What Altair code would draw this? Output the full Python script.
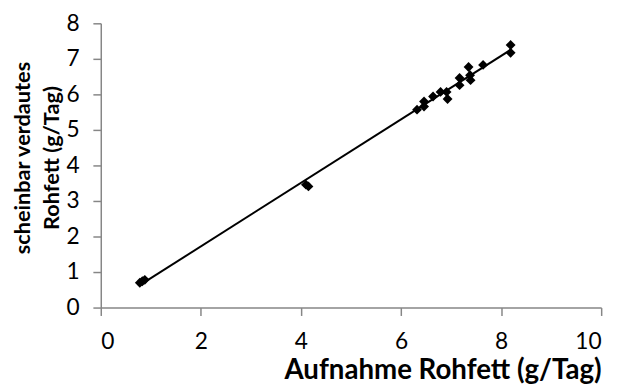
import altair as alt
import pandas as pd

aufnahme = [0.78, 0.83, 0.88, 4.10, 4.15,
            6.32, 6.46, 6.46, 6.64, 6.79, 6.91, 6.93, 7.17, 7.17,
            7.35, 7.38, 7.39, 7.64, 8.19, 8.19]
verdaut = [0.70, 0.74, 0.78, 3.46, 3.41,
           5.57, 5.66, 5.80, 5.94, 6.07, 6.07, 5.87, 6.46, 6.26,
           6.77, 6.54, 6.40, 6.83, 7.39, 7.17]

x_title = "Aufnahme Rohfett (g/Tag)"
y_title = ["scheinbar verdautes", "Rohfett  (g/Tag)"]
x_ticks = [0, 2, 4, 6, 8, 10]
y_ticks = [0, 1, 2, 3, 4, 5, 6, 7, 8]

df = pd.DataFrame({"x": aufnahme, "y": verdaut})

FONT = "Lato"
GREY = "#868686"

x_enc = alt.X("x:Q", scale=alt.Scale(domain=[0, 10], nice=False),
              axis=alt.Axis(values=x_ticks, title=x_title, grid=False,
                            labelOverlap=False,
                            domainColor=GREY, domainWidth=1.5, tickColor=GREY,
                            tickWidth=1.5, tickSize=8, labelFont=FONT,
                            labelFontSize=23, labelColor="black", labelPadding=15,
                            titleFont=FONT, titleFontSize=28, titleFontWeight="bold",
                            titleColor="black", titleAnchor="end", titlePadding=4))
y_enc = alt.Y("y:Q", scale=alt.Scale(domain=[0, 8], nice=False),
              axis=alt.Axis(values=y_ticks, title=y_title, grid=False,
                            labelOverlap=False,
                            domainColor=GREY, domainWidth=1.5, tickColor=GREY,
                            tickWidth=1.5, tickSize=8, labelFont=FONT,
                            labelFontSize=23, labelColor="black", labelPadding=14,
                            titleFont=FONT, titleFontSize=22, titleFontWeight="bold",
                            titleColor="black", titleLineHeight=29,
                            titleX=-67, titleY=136))

points = alt.Chart(df).mark_point(shape="diamond", filled=True, color="black",
                                  size=100, opacity=1).encode(x=x_enc, y=y_enc)
line = alt.Chart(df).transform_regression("x", "y").mark_line(
    color="black", strokeWidth=2).encode(x=x_enc, y=y_enc)

chart = (points + line).properties(
    width=507, height=288,
    autosize=alt.AutoSizeParams(type="none"),
    padding={"left": 94, "top": 13, "right": 14, "bottom": 81},
).configure_view(stroke=None)

chart.save("out.html", embed_options={"renderer": "svg", "actions": False})
